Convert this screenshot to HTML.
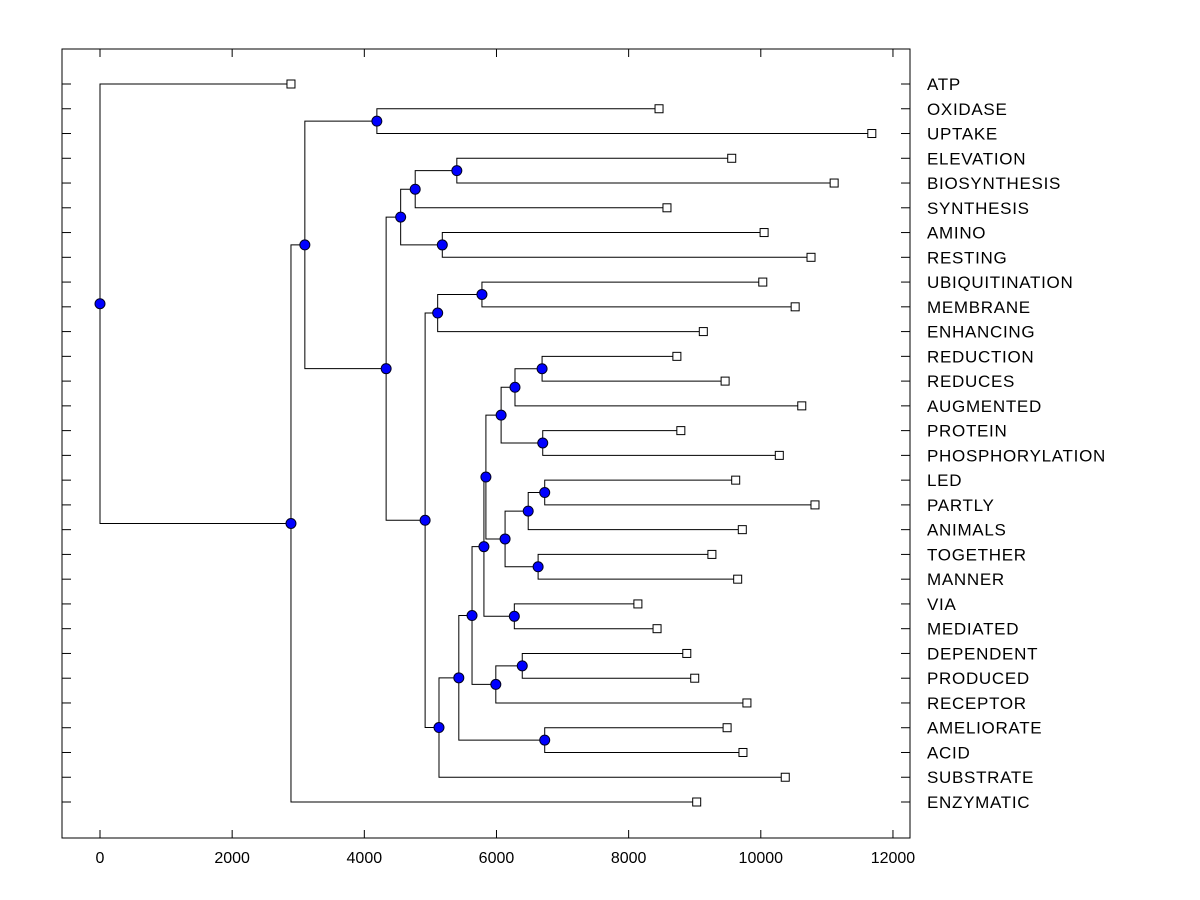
<!DOCTYPE html>
<html><head><meta charset="utf-8"><style>
body{margin:0;background:#fff;}
svg{display:block;font-family:"Liberation Sans",Arial,sans-serif;}
</style></head><body>
<svg id="chart" width="1200" height="900" viewBox="0 0 1200 900"></svg>
<script>
const leafLabels=["ATP","OXIDASE","UPTAKE","ELEVATION","BIOSYNTHESIS","SYNTHESIS","AMINO","RESTING","UBIQUITINATION","MEMBRANE","ENHANCING","REDUCTION","REDUCES","AUGMENTED","PROTEIN","PHOSPHORYLATION","LED","PARTLY","ANIMALS","TOGETHER","MANNER","VIA","MEDIATED","DEPENDENT","PRODUCED","RECEPTOR","AMELIORATE","ACID","SUBSTRATE","ENZYMATIC"];
const leafValues=[2890,8460,11680,9560,11110,8580,10050,10760,10030,10520,9130,8730,9460,10620,8790,10280,9620,10820,9720,9260,9650,8140,8430,8880,9000,9790,9490,9730,10370,9030];
const nodeNames=["I","C","H","G","E","L","J","Y","W","X","U","AB","Z","AA","V","S","T","P","R","Q","N","O","M","K","F","D","B","A","root"];
const nodeHeights=[5400,4190,5180,4770,4550,5780,5110,6690,6280,6700,6070,6730,6480,6630,6130,5840,6270,5810,6390,5990,5630,6730,5430,5130,4920,4330,3100,2890,0];
const nodeChildren=[[3,4],[1,2],[6,7],["I",5],["G","H"],[8,9],["L",10],[11,12],["Y",13],[14,15],["W","X"],[16,17],["AB",18],[19,20],["Z","AA"],["U","V"],[21,22],["S","T"],[23,24],["R",25],["P","Q"],[26,27],["N","O"],["M",28],["J","K"],["E","F"],["C","D"],["B",29],[0,"A"]];
const xTicks=[0,2000,4000,6000,8000,10000,12000];

const NS="http://www.w3.org/2000/svg";
const svg=document.getElementById('chart');
const L=62,R=910,T=49,B=838;
const xs=v=>100+v*0.06608;
const ys=i=>84+i*(802-84)/29;
function el(tag,attrs,parent){const e=document.createElementNS(NS,tag);for(const k in attrs)e.setAttribute(k,attrs[k]);(parent||svg).appendChild(e);return e;}

const frame=el('rect',{x:L,y:T,width:R-L,height:B-T,fill:'none',stroke:'#000','stroke-width':1});



const axis=el('g',{});


xTicks.forEach(v=>{
  const x=xs(v);
  el('line',{x1:x,y1:B,x2:x,y2:B-8,stroke:'#000'},axis);
  el('line',{x1:x,y1:T,x2:x,y2:T+8,stroke:'#000'},axis);
  const t=el('text',{x:x,y:863,'text-anchor':'middle','font-size':16,fill:'#000'},axis);
  t.textContent=v;
  
  
});
leafLabels.forEach((lab,i)=>{
  const y=ys(i);
  el('line',{x1:L,y1:y,x2:L+9,y2:y,stroke:'#000'},axis);
  el('line',{x1:R-9,y1:y,x2:R,y2:y,stroke:'#000'},axis);
  const t=el('text',{x:927,y:y+6,'font-size':17,'letter-spacing':0.7,fill:'#000'});
  t.textContent=lab;
  
  
});

const pos={};
leafValues.forEach((v,i)=>{pos[i]={x:xs(v),y:ys(i)};});
const links=el('g',{});


const dots=[];
nodeNames.forEach((n,k)=>{
  const x=xs(nodeHeights[k]);
  const a=pos[nodeChildren[k][0]],b=pos[nodeChildren[k][1]];
  const y=(a.y+b.y)/2;
  pos[n]={x:x,y:y};
  el('path',{d:`M${a.x} ${a.y}H${x}V${b.y}H${b.x}`,fill:'none',stroke:'#000','stroke-width':1},links);
  dots.push([x,y]);
});
leafValues.forEach((v,i)=>{
  const r=el('rect',{x:pos[i].x-4,y:pos[i].y-4,width:8,height:8,fill:'#fff',stroke:'#000'});
  
  
});
dots.forEach(([x,y])=>{
  const c=el('circle',{cx:x,cy:y,r:5,fill:'#0000ff',stroke:'#000020','stroke-width':1});
  
  
});
</script>
</body></html>
